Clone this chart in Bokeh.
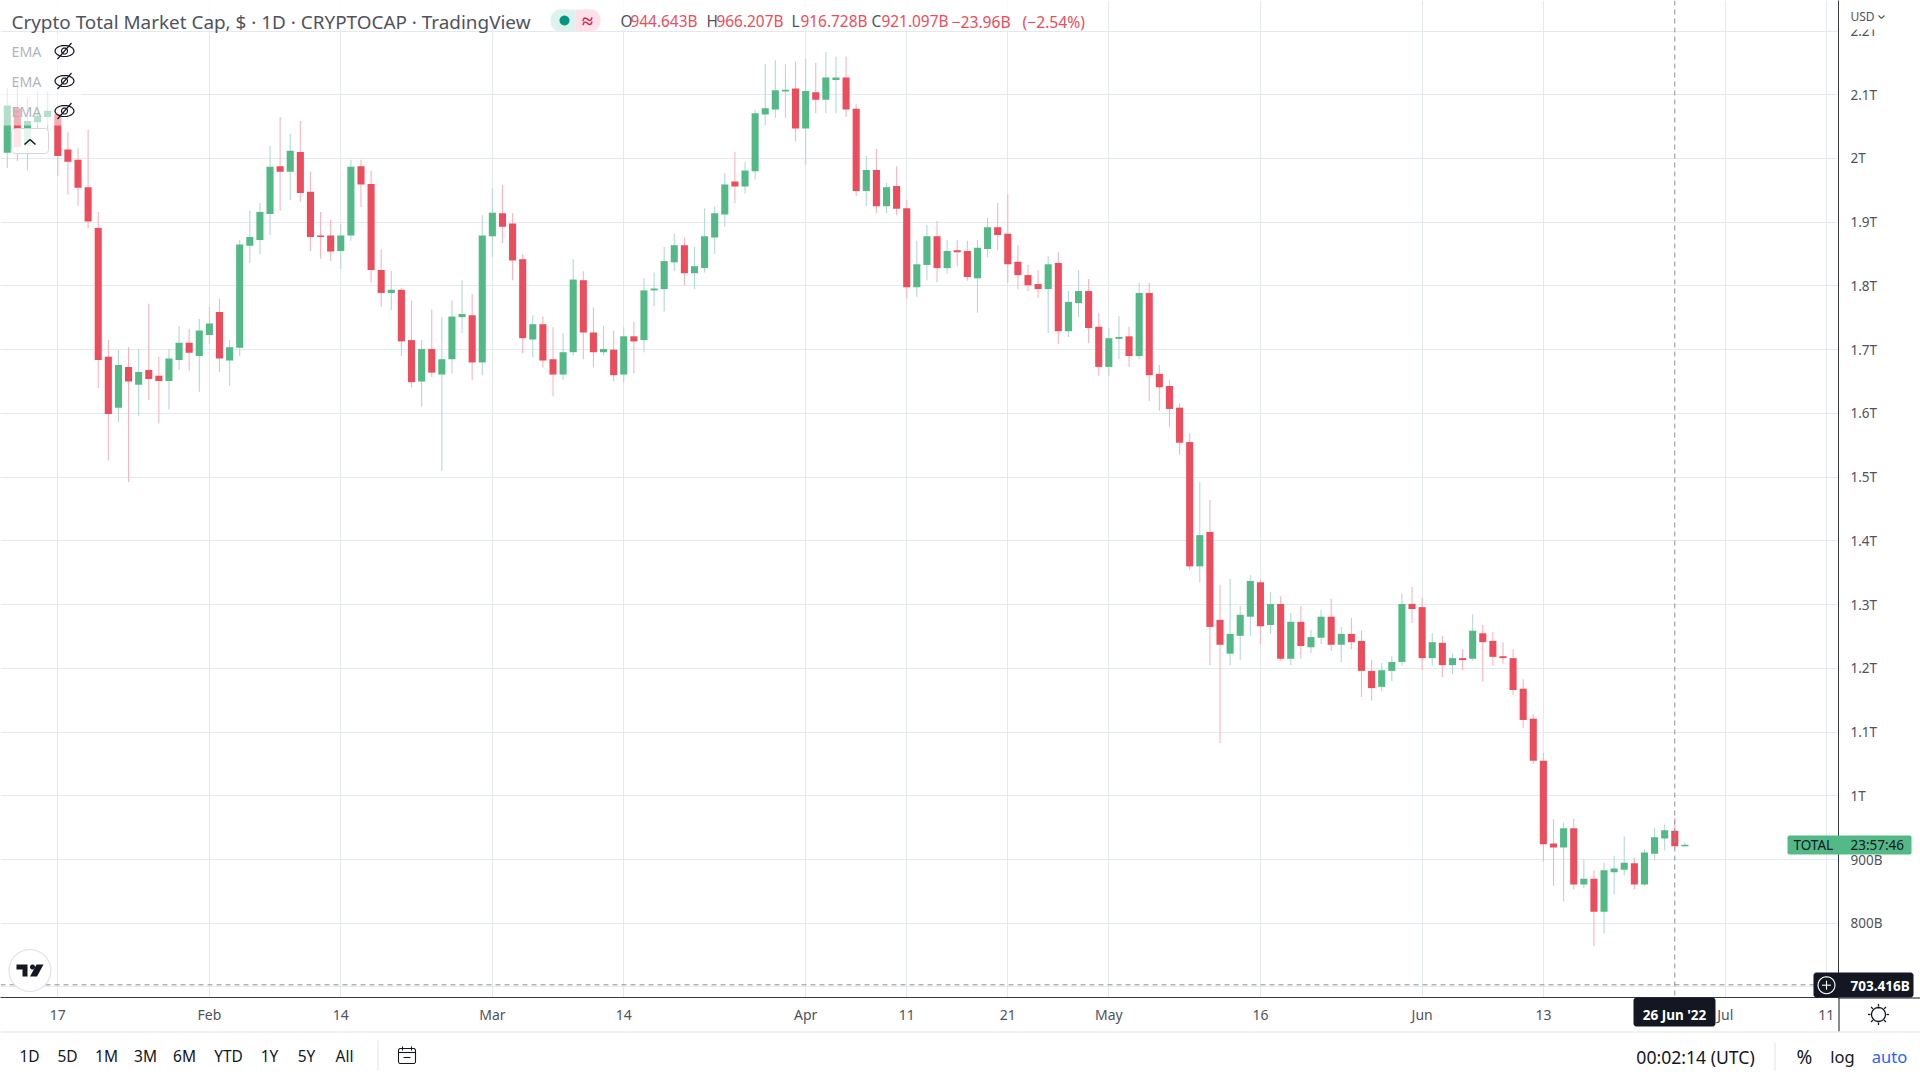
import math
import pandas as pd
from bokeh.plotting import figure
from bokeh.models import (ColumnDataSource, Range1d, FixedTicker, Span, Label, PolyAnnotation)
from bokeh.embed import file_html
from bokeh.resources import INLINE

first_day = "2022-01-12"
opens = [2009,2079,2020,2057,2065,2070,2014,1998,1955,1891,1689,1609,1673,1645,1668,1659,1651,1684,1711,1690,
         1723,1759,1683,1703,1863,1872,1913,1988,1979,2010,1948,1879,1879,1855,1879,1988,1960,1825,1789,1794,
         1715,1650,1701,1661,1685,1751,1754,1680,1878,1914,1898,1842,1716,1740,1685,1661,1696,1809,1727,1696,
         1700,1661,1721,1715,1793,1795,1837,1864,1820,1828,1876,1912,1964,1956,1980,2069,2077,2105,2110,2047,
         2104,2092,2123,2127,2078,1949,1982,1925,1957,1922,1798,1833,1878,1828,1856,1855,1812,1858,1892,1882,
         1838,1817,1803,1795,1836,1729,1773,1792,1736,1673,1717,1721,1690,1789,1662,1643,1609,1555,1360,1414,
         1276,1223,1251,1281,1335,1268,1301,1215,1273,1233,1248,1281,1237,1254,1243,1196,1171,1196,1210,1301,
         1296,1216,1240,1205,1216,1215,1255,1243,1219,1216,1168,1121,1055,925,919,949,861,870,818,880,
         884,894,861,909,933,945,921]
highs = [2111,2119,2095,2105,2105,2073,2041,2017,2045,1916,1715,1700,1704,1701,1772,1689,1701,1737,1733,1748,
         1767,1780,1715,1872,1918,1930,2020,2065,2039,2059,1979,1916,1904,1897,1998,1998,1981,1857,1824,1797,
         1777,1715,1763,1751,1777,1809,1787,1911,1953,1958,1914,1850,1754,1752,1735,1726,1842,1823,1766,1737,
         1730,1735,1744,1812,1821,1861,1882,1876,1861,1922,1925,1977,2010,1994,2077,2148,2154,2148,2152,2156,
         2150,2167,2160,2160,2085,2004,2015,1962,1988,1935,1871,1896,1902,1872,1872,1871,1872,1907,1930,1944,
         1864,1833,1825,1847,1853,1792,1825,1811,1758,1734,1753,1736,1805,1805,1676,1652,1616,1569,1492,1464,
         1331,1340,1298,1346,1339,1320,1313,1287,1298,1260,1292,1309,1265,1279,1259,1213,1208,1219,1317,1328,
         1310,1255,1251,1223,1230,1285,1268,1257,1241,1230,1183,1128,1067,963,958,964,900,883,895,906,
         936,903,917,950,955,966,927]
lows = [1985,1996,1981,2045,2045,1973,1943,1926,1890,1640,1526,1587,1492,1596,1621,1584,1606,1668,1667,1634,
        1709,1665,1643,1690,1836,1850,1880,1918,1935,1932,1855,1843,1839,1827,1871,1924,1805,1767,1762,1690,
        1641,1611,1657,1510,1663,1726,1652,1660,1846,1867,1809,1694,1688,1672,1627,1652,1691,1685,1672,1691,
        1650,1649,1663,1696,1768,1760,1823,1801,1795,1821,1850,1893,1930,1945,1967,2052,2064,2063,2027,1990,
        2071,2071,2071,2065,1941,1925,1914,1914,1911,1780,1783,1809,1806,1819,1831,1808,1758,1845,1856,1805,
        1795,1792,1781,1726,1709,1720,1751,1710,1659,1659,1685,1673,1685,1619,1604,1579,1535,1354,1335,1205,
        1083,1205,1213,1251,1237,1254,1212,1205,1215,1224,1238,1227,1210,1230,1155,1149,1164,1180,1204,1271,
        1197,1204,1186,1191,1197,1212,1179,1204,1207,1158,1106,1050,897,859,834,853,855,764,784,845,
        875,853,859,898,914,917,920]
closes = [2083,2018,2059,2067,2075,2004,1995,1954,1901,1684,1599,1676,1650,1665,1654,1651,1686,1711,1695,1730,
          1741,1686,1704,1865,1877,1916,1987,1979,2012,1946,1877,1877,1854,1879,1987,1959,1825,1789,1794,1713,
          1649,1701,1664,1685,1752,1756,1680,1879,1915,1893,1840,1718,1740,1683,1661,1696,1810,1727,1696,1701,
          1660,1721,1713,1793,1796,1839,1864,1820,1831,1878,1914,1959,1956,1981,2071,2079,2107,2108,2047,2106,
          2092,2127,2127,2077,1949,1982,1925,1955,1921,1798,1834,1878,1828,1855,1853,1814,1860,1892,1880,1834,
          1817,1801,1795,1834,1729,1775,1792,1734,1673,1718,1720,1690,1789,1660,1641,1607,1554,1360,1409,1265,
          1237,1254,1284,1337,1266,1301,1215,1273,1235,1249,1281,1237,1254,1241,1196,1169,1197,1210,1301,1293,
          1216,1241,1205,1216,1213,1259,1241,1218,1216,1166,1119,1055,924,919,949,861,870,818,883,886,
          895,861,911,935,946,921,923]

price_ticks = [700,800,900,1000,1100,1200,1300,1400,1500,1600,1700,1800,1900,2000,2100,2200]
price_labels = ["700B","800B","900B","1T","1.1T","1.2T","1.3T","1.4T","1.5T","1.6T","1.7T","1.8T","1.9T","2T","2.1T","2.2T"]
time_dates = ["2022-01-17","2022-02-01","2022-02-14","2022-03-01","2022-03-14","2022-04-01","2022-04-11",
              "2022-04-21","2022-05-01","2022-05-16","2022-06-01","2022-06-13","2022-07-01","2022-07-11"]
time_labels = ["17","Feb","14","Mar","14","Apr","11","21","May","16","Jun","13","Jul","11"]
cross_date = "2022-06-26"
cross_price = 703.416

UP, DOWN = "#53b987", "#eb4d5c"
UP_WICK, DOWN_WICK = "#b4d8db", "#f9b4bf"
GRID = "#e2eaef"
INK = "#131722"
FONT = "Noto Sans"

def day_of(d):
    return (pd.Timestamp(d) - pd.Timestamp(first_day)).days

days = list(range(len(opens)))
is_up = [c >= o for o, c in zip(opens, closes)]
src = ColumnDataSource(dict(
    day=days, high=highs, low=lows,
    top=[max(o, c) for o, c in zip(opens, closes)],
    bottom=[min(o, c) for o, c in zip(opens, closes)],
    color=[UP if u else DOWN for u in is_up],
    wick=[UP_WICK if u else DOWN_WICK for u in is_up],
))

p = figure(width=1920, height=1080, output_backend="svg", toolbar_location=None,
           x_range=Range1d(-0.67, 181.2), y_range=Range1d(683.5, 2247.9),
           y_axis_location="right", min_border_left=0, min_border_top=0,
           min_border_right=82, min_border_bottom=83, outline_line_color=None,
           background_fill_color="white", border_fill_color="white")

for axis, ticks, labels in ((p.xaxis[0], [day_of(d) for d in time_dates], time_labels),
                            (p.yaxis[0], price_ticks, price_labels)):
    axis.ticker = FixedTicker(ticks=ticks)
    axis.major_label_overrides = dict(zip(ticks, labels))
    axis.major_tick_line_color = None
    axis.minor_tick_line_color = None
    axis.axis_line_color = "#363a45"
    axis.major_label_text_color = "#50535e"
    axis.major_label_text_font = FONT
p.yaxis[0].major_label_text_font_size = "13.5px"
p.xaxis[0].major_label_text_font_size = "14px"
p.yaxis[0].major_label_standoff = 6
p.xaxis[0].major_label_standoff = 1
p.grid.grid_line_color = GRID
p.grid.grid_line_width = 1

p.segment("day", "high", "day", "low", source=src, line_color="wick", line_width=1.1)
p.vbar(x="day", top="top", bottom="bottom", width=0.7, source=src, fill_color="color", line_color=None)

p.add_layout(Span(location=day_of(cross_date), dimension="height", line_color="#8f929b",
                  line_dash=[5, 4], line_width=1))
p.add_layout(Span(location=cross_price, dimension="width", line_color="#8f929b",
                  line_dash=[5, 4], line_width=1))

# transparent chrome layer stacked above the chart
ov = figure(width=1920, height=1080, output_backend="svg", toolbar_location=None,
            x_range=Range1d(0, 1920), y_range=Range1d(1080, 0), x_axis_location=None, y_axis_location=None,
            min_border=0, outline_line_color=None, background_fill_alpha=0.0, border_fill_alpha=0.0,
            margin=(-1080, 0, 0, 0))
ov.grid.visible = False


def poly(pts, fill=None, line=None, fa=1.0, lw=1.0):
    ov.add_layout(PolyAnnotation(xs=[a for a, _ in pts], ys=[b for _, b in pts],
                                 xs_units="canvas", ys_units="canvas", level="annotation",
                                 fill_color=fill if fill else "white", fill_alpha=fa if fill else 0.0,
                                 line_color=line if line else "white", line_alpha=1.0 if line else 0.0,
                                 line_width=lw, editable=False))


def box(x0, y0, x1, y1, fill=None, line=None, fa=1.0, r=0, lw=1.0):
    if r == 0:
        pts = [(x0, y0), (x1, y0), (x1, y1), (x0, y1)]
    else:
        pts = []
        for cx, cy, start in ((x1 - r, y0 + r, -90), (x1 - r, y1 - r, 0), (x0 + r, y1 - r, 90), (x0 + r, y0 + r, 180)):
            for k in range(7):
                a = math.radians(start + k * 15)
                pts.append((cx + r * math.cos(a), cy + r * math.sin(a)))
    poly(pts, fill, line, fa, lw)


def ring(cx, cy, rx, ry=None, fill=None, line=None, lw=1.0):
    ry = rx if ry is None else ry
    pts = [(cx + rx * math.cos(math.radians(a)), cy + ry * math.sin(math.radians(a))) for a in range(0, 360, 15)]
    poly(pts, fill, line, 1.0, lw)


def stroke(x0, y0, x1, y1, color=INK, w=1.4):
    dx, dy = x1 - x0, y1 - y0
    n = math.hypot(dx, dy)
    ox, oy = -dy / n * w / 2, dx / n * w / 2
    poly([(x0 + ox, y0 + oy), (x1 + ox, y1 + oy), (x1 - ox, y1 - oy), (x0 - ox, y0 - oy)], color)


def text(x, y, s, size=14, color=INK, align="left", style="normal", font=FONT):
    ov.add_layout(Label(x=x, y=y, x_units="canvas", y_units="canvas", text=s, text_font=font,
                        text_font_size=f"{size}px", text_color=color, text_align=align,
                        text_baseline="middle", text_font_style=style, level="annotation"))


# legend veil
box(0, 0, 1095, 30, "white", fa=0.8)
box(0, 34, 81, 125, "white", fa=0.55)
text(11, 21, "Crypto Total Market Cap, $ · 1D · CRYPTOCAP · TradingView", 18.9, "#50535e")

box(575, 9, 600, 31, "#fde0e8", r=10)
box(575, 9, 588, 31, "#fde0e8")
box(550, 9, 575, 31, "#ddf2ed", r=10)
box(565, 9, 575, 31, "#ddf2ed")
ring(564, 20, 5, fill="#00967f")
text(587, 20, "≈", 20, "#d81b60", "center", "bold")

RED = "#eb4d5c"
for lx, ls, vx, vs in ((620, "O", 630, "944.643B"), (706, "H", 716, "966.207B"),
                       (791, "L", 800, "916.728B"), (871, "C", 881, "921.097B")):
    text(lx, 21, ls, 15.4, "#50535e")
    text(vx, 21, vs, 15.4, RED)
text(951, 21, "−23.96B", 15.7, RED)
text(1022, 21, "(−2.54%)", 15.7, RED)

for yy in (50.5, 80.5, 110.5):
    text(11, yy, "EMA", 14.2, "#b2b5be")
    ring(64, yy, 9.5, 5.5, line=INK, lw=1.2)
    ring(64, yy, 3, line=INK, lw=1.2)
    stroke(57, yy + 8, 71, yy - 8, INK, 1.2)

box(11, 128, 48, 153, "white", "#d1d4dc", 0.85, r=4)
stroke(24, 144, 29.5, 139, INK, 1.6)
stroke(29.5, 139, 35, 144, INK, 1.6)

# logo
ring(29.4, 970, 21, fill="white", line="#e0e3eb", lw=1.2)
poly([(16, 964), (27, 964), (27, 976), (22, 976), (22, 969), (16, 969)], INK)
ring(32, 966.5, 2.5, fill=INK)
poly([(36, 964), (43, 964), (36.5, 976), (29.5, 976)], INK)

# scale corner
box(1839, 0, 1920, 29, "white")
text(1850, 16, "USD", 12, "#50535e")
stroke(1878, 15, 1881, 18, "#50535e", 1.1)
stroke(1881, 18, 1884, 15, "#50535e", 1.1)

# scale tags
box(1787, 835, 1911, 854, UP, r=2)
text(1793, 844.5, "TOTAL", 13.5, INK)
text(1850, 844.5, "23:57:46", 13.5, INK)
box(1813, 972, 1913, 997, INK, r=3)
ring(1826, 984.7, 8.5, line="white", lw=1.1)
stroke(1821.5, 984.7, 1830.5, 984.7, "white", 1.1)
stroke(1826, 980.2, 1826, 989.2, "white", 1.1)
text(1850, 985, "703.416B", 13.5, "white", style="bold")

# axis joins
box(1838, 997, 1839, 1031, INK)
box(1838, 997, 1920, 998, INK)
box(0, 1031, 1920, 1032, "#e0e3eb")

box(1633, 997, 1715, 1026, INK, r=3)
text(1674, 1014, "26 Jun '22", 13.5, "white", "center", "bold")

# gear
ring(1878, 1014, 7, line=INK, lw=1.3)
for a in range(0, 360, 45):
    c, s = math.cos(math.radians(a)), math.sin(math.radians(a))
    stroke(1878 + 8 * c, 1014 + 8 * s, 1878 + 10.5 * c, 1014 + 10.5 * s, INK, 1.3)

# bottom bar
for cx, s in ((29, "1D"), (67, "5D"), (106, "1M"), (145, "3M"), (184, "6M"), (228, "YTD"),
              (269, "1Y"), (306, "5Y"), (344, "All")):
    text(cx, 1055, s, 15.5, INK, "center")
box(377, 1040, 378, 1070, "#e0e3eb")
box(398, 1048, 415, 1063, line=INK, r=2, lw=1.1)
stroke(398, 1052, 415, 1052, INK, 1.1)
stroke(402, 1046, 402, 1050, INK, 1.1)
stroke(411, 1046, 411, 1050, INK, 1.1)
stroke(403, 1057, 410, 1057, INK, 1.1)

text(1695, 1056, "00:02:14 (UTC)", 17.6, INK, "center")
box(1774, 1042, 1775, 1070, "#e0e3eb")
text(1804, 1056, "%", 19, INK, "center")
text(1842, 1056, "log", 16.5, INK, "center")
text(1889, 1056, "auto", 16.5, "#2962ff", "center")

open("out.html", "w").write(file_html([p, ov], INLINE))
